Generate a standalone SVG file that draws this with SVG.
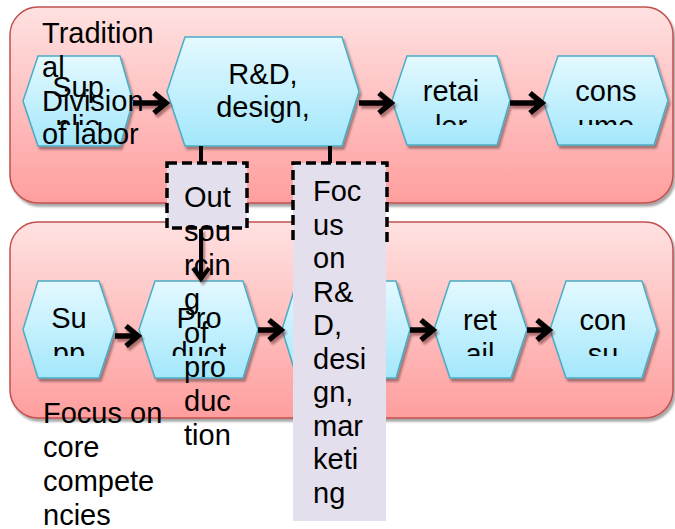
<svg xmlns="http://www.w3.org/2000/svg" width="675" height="529" viewBox="0 0 675 529">
<defs>
<linearGradient id="gPink" x1="0" y1="0" x2="0" y2="1"><stop offset="0" stop-color="#FFE1E1"/><stop offset="1" stop-color="#FF9E9E"/></linearGradient>
<linearGradient id="gCyan" x1="0" y1="0" x2="0" y2="1"><stop offset="0" stop-color="#E4F9FF"/><stop offset="1" stop-color="#A3E7FB"/></linearGradient>
<filter id="sh" x="-10%" y="-10%" width="130%" height="130%"><feDropShadow dx="2" dy="3" stdDeviation="1" flood-color="#000" flood-opacity="0.35"/></filter>
<filter id="ash" x="-30%" y="-30%" width="160%" height="160%"><feDropShadow dx="2" dy="3" stdDeviation="0.8" flood-color="#5a2020" flood-opacity="0.5"/></filter>
<clipPath id="cTop"><rect x="0" y="30" width="675" height="95"/></clipPath>
<clipPath id="cBot"><rect x="0" y="270" width="675" height="86"/></clipPath>
<style>
.cont{fill:url(#gPink);stroke:#C0504D;stroke-width:1.5;filter:url(#sh)}
.hex{fill:url(#gCyan);stroke:#4BACC6;stroke-width:1.5;filter:url(#sh)}
.arr{fill:none;stroke:#000;stroke-width:5.5;stroke-linejoin:miter;filter:url(#ash)}
.con{fill:none;stroke:#000;stroke-width:4}
.box{fill:#E4DFEC}
.dash{fill:none;stroke:#000;stroke-width:3.5;stroke-dasharray:10 5}
text{font-family:"Liberation Sans",Arial,sans-serif;font-size:29px;fill:#000}
.c{text-anchor:middle}
</style>
</defs>
<g id="container-traditional"><rect class="cont" x="10" y="7" width="663" height="196" rx="28"/></g>
<g id="container-core"><rect class="cont" x="10" y="222" width="663" height="196" rx="28"/></g>

<g id="t-supplier"><polygon class="hex" points="23,101 38,56 120,56 133,101 120,146 38,146"/><g clip-path="url(#cTop)"><text class="c" x="78" y="97">Sup</text><text class="c" x="78" y="136">plie</text></g></g>
<g id="t-rnd"><polygon class="hex" points="167,91.5 185,37 342,37 359,91.5 342,146 185,146"/><g clip-path="url(#cTop)"><text class="c" x="263" y="84">R&amp;D,</text><text class="c" x="263" y="117">design,</text></g></g>
<g id="t-retailer"><polygon class="hex" points="392,100.5 407,56 497,56 510,100.5 497,145 407,145"/><g clip-path="url(#cTop)"><text class="c" x="451" y="101">retai</text><text class="c" x="451" y="136">ler</text></g></g>
<g id="t-consumer"><polygon class="hex" points="543,100.5 558,56 654,56 668,100.5 654,145 558,145"/><g clip-path="url(#cTop)"><text class="c" x="606" y="101">cons</text><text class="c" x="606" y="136">ume</text></g></g>

<g id="b-supplier"><polygon class="hex" points="23,329.5 38,281 99,281 115,329.5 99,378 38,378"/><g clip-path="url(#cBot)"><text class="c" x="69" y="328">Su</text><text class="c" x="69" y="363">pp</text></g></g>
<g id="b-production"><polygon class="hex" points="139,329.5 155,281 243,281 258,329.5 243,378 155,378"/><g clip-path="url(#cBot)"><text class="c" x="199" y="328">Pro</text><text class="c" x="199" y="363">duct</text></g></g>
<g id="b-rnd"><polygon class="hex" points="282,329.5 297,281 396,281 410,329.5 396,378 297,378"/></g>
<g id="b-retail"><polygon class="hex" points="434,329.5 450,281 511,281 527,329.5 511,378 450,378"/><g clip-path="url(#cBot)"><text class="c" x="480" y="330">ret</text><text class="c" x="480" y="364">ail</text></g></g>
<g id="b-consumer"><polygon class="hex" points="550,329.5 566,281 642,281 657,329.5 642,378 566,378"/><g clip-path="url(#cBot)"><text class="c" x="603" y="330">con</text><text class="c" x="603" y="364">su</text></g></g>

<g id="connectors">
<path class="arr" d="M133,103 H165 M154,93 L166,103 L154,113"/>
<path class="arr" d="M359,103 H390 M379,93 L391,103 L379,113"/>
<path class="arr" d="M510,103 H541 M530,93 L542,103 L530,113"/>
<path class="arr" d="M115,336 H137 M126,326 L138,336 L126,346"/>
<path class="arr" d="M258,330 H280 M269,320 L281,330 L269,340"/>
<path class="arr" d="M410,330 H432 M421,320 L433,330 L421,340"/>
<path class="arr" d="M527,330 H548 M537,320 L549,330 L537,340"/>
<path class="con" d="M201,146 V163"/>
<path class="con" d="M330,146 V163"/>
<path class="arr" style="stroke-width:4" d="M201,229 V278 M193,268 L201,279 L209,268"/>
</g>

<g id="label-traditional"><text x="42" y="43">Tradition</text><text x="42" y="77">al</text><text x="42" y="111">Division</text><text x="42" y="144">of  labor</text></g>

<g id="outsourcing">
<rect class="box" x="167" y="163" width="80" height="65"/>
<rect class="dash" x="167" y="163" width="80" height="65"/>
<text x="184" y="207">Out</text><text x="184" y="241">sou</text><text x="184" y="275">rcin</text><text x="184" y="309">g</text><text x="184" y="343">of</text><text x="184" y="377">pro</text><text x="184" y="411">duc</text><text x="184" y="445">tion</text>
</g>

<g id="focus-rnd">
<rect class="box" x="293" y="163" width="93" height="358"/>
<path class="dash" d="M293,240 V163 H387 V245"/>
<text x="313" y="201">Foc</text><text x="313" y="235">us</text><text x="313" y="268">on</text><text x="313" y="302">R&amp;</text><text x="313" y="335">D,</text><text x="313" y="369">desi</text><text x="313" y="402">gn,</text><text x="313" y="436">mar</text><text x="313" y="469">keti</text><text x="313" y="503">ng</text>
</g>

<g id="label-core"><text x="43" y="423">Focus on</text><text x="43" y="457">core</text><text x="43" y="491">compete</text><text x="43" y="525">ncies</text></g>
</svg>
